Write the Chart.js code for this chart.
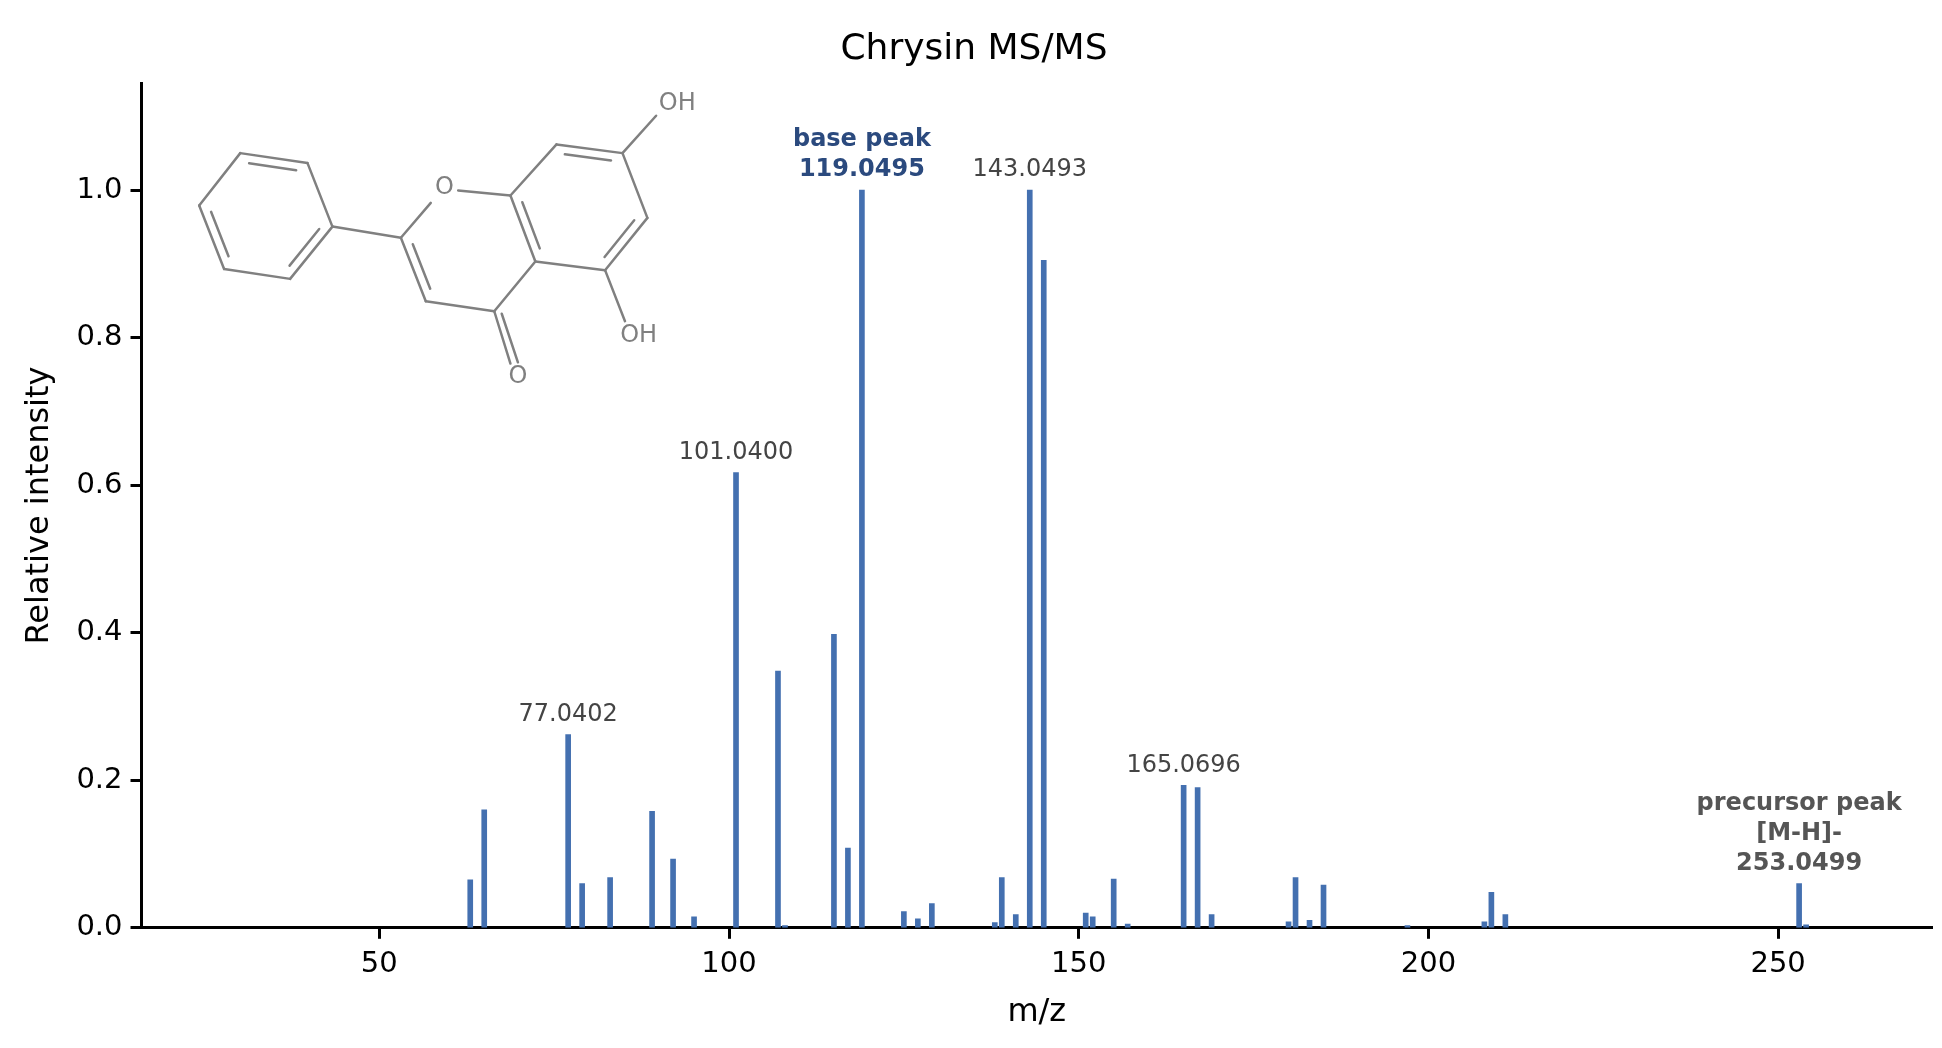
<!DOCTYPE html>
<html><head><meta charset="utf-8">
<script src="https://cdn.jsdelivr.net/npm/chart.js@4/dist/chart.umd.min.js"></script>
<style>html,body{margin:0;padding:0;background:#fff}#wrap{width:1942px;height:1048px}</style>
</head><body><div id="wrap"><canvas id="c"></canvas></div>
<script>
const mzValues = [63,65,77,79,83,89,92,95,101,107,108,115,117,119,125,127,129,138,139,141,143,145,151,152,155,157,165,167,169,180,181,183,185,197,208,209,211,253,254];
const intensities = [0.065,0.16,0.262,0.06,0.068,0.158,0.093,0.015,0.617,0.348,0.003,0.398,0.108,1.0,0.022,0.012,0.033,0.007,0.068,0.018,1.0,0.905,0.02,0.015,0.066,0.005,0.193,0.19,0.018,0.008,0.068,0.01,0.058,0.003,0.008,0.048,0.018,0.06,0.004];
const xTicks = [50,100,150,200,250];
const yTicks = [0,0.2,0.4,0.6,0.8,1.0];
const peakLabels = [
  {mz:77, y:0.262, lines:["77.0402"], bold:false, color:"#444"},
  {mz:101, y:0.617, lines:["101.0400"], bold:false, color:"#444"},
  {mz:119, y:1.0, lines:["base peak","119.0495"], bold:true, color:"#2b4a7e"},
  {mz:143, y:1.0, lines:["143.0493"], bold:false, color:"#444"},
  {mz:165, y:0.193, lines:["165.0696"], bold:false, color:"#444"},
  {mz:253, y:0.06, lines:["precursor peak","[M-H]-","253.0499"], bold:true, color:"#555"}
];
const FONT = "'DejaVu Sans', sans-serif";

const labelPlugin = {
  id:'labels',
  afterDatasetsDraw(chart){
    const {ctx, scales:{x,y}} = chart;
    ctx.save();
    ctx.textAlign='center'; ctx.textBaseline='bottom';
    peakLabels.forEach(l=>{
      ctx.font = (l.bold?'bold ':'') + '24px ' + FONT;
      ctx.fillStyle = l.color;
      const px = x.getPixelForValue(l.mz);
      let py = y.getPixelForValue(l.y) - 8;
      for(let i=l.lines.length-1;i>=0;i--){ ctx.fillText(l.lines[i], px, py); py -= 30; }
    });
    ctx.restore();
  }
};
const molPlugin = {
  id:'mol',
  afterDraw(chart){
    const ctx = chart.ctx, s=1.245;
    const P = a=>[a[0]*s,a[1]*s];
    ctx.save(); ctx.strokeStyle='#808080'; ctx.lineWidth=2.5; ctx.lineCap='round';
    const line=(a,b)=>{a=P(a);b=P(b);ctx.beginPath();ctx.moveTo(a[0],a[1]);ctx.lineTo(b[0],b[1]);ctx.stroke();};
    const inner=(a,b,c)=>{
      const m=[(a[0]+b[0])/2,(a[1]+b[1])/2]; const d=[c[0]-m[0],c[1]-m[1]]; const L=Math.hypot(d[0],d[1]);
      const o=[d[0]/L*7,d[1]/L*7]; const sh=0.15;
      const a2=[a[0]+o[0]+(b[0]-a[0])*sh,a[1]+o[1]+(b[1]-a[1])*sh];
      const b2=[b[0]+o[0]-(b[0]-a[0])*sh,b[1]+o[1]-(b[1]-a[1])*sh];
      line(a2,b2);
    };
    const bz=[[193,123],[247,131],[267,182],[233,224],[180,216],[160,165]];
    const bc=[213,174];
    for(let i=0;i<6;i++) line(bz[i],bz[(i+1)%6]);
    inner(bz[0],bz[1],bc); inner(bz[2],bz[3],bc); inner(bz[4],bz[5],bc);
    const C2=[322,191],C8a=[410,157],C4a=[430,210],C4=[397,250],C3=[342,242];
    const C8=[447,116],C7=[500,123],C6=[520,175],C5=[486,217];
    line(bz[2],C2);
    line(C2,[346,163]); line([368,153],C8a);
    line(C8a,C4a); line(C4a,C4); line(C4,C3); line(C3,C2);
    inner(C3,C2,[376,200]);
    line(C8a,C8); line(C8,C7); line(C7,C6); line(C6,C5); line(C5,C4a);
    const ac=[465,166];
    inner(C8,C7,ac); inner(C6,C5,ac); inner(C8a,C4a,ac);
    line(C7,[527,93]); line(C5,[502,258]);
    line(C4,[410,292]); line([403,252],[416,291]);
    ctx.fillStyle='#808080'; ctx.font='24px '+FONT; ctx.textAlign='center'; ctx.textBaseline='middle';
    let t=P([357,151]); ctx.fillText('O',t[0],t[1]);
    t=P([544,83]); ctx.fillText('OH',t[0],t[1]);
    t=P([513,270]); ctx.fillText('OH',t[0],t[1]);
    t=P([416,303]); ctx.fillText('O',t[0],t[1]);
    ctx.restore();
  }
};

new Chart(document.getElementById('c'),{
  type:'bar',
  data:{datasets:[{data:mzValues.map((m,i)=>({x:m,y:intensities[i]})),backgroundColor:'#4470b0',barThickness:5}]},
  options:{
    responsive:true, maintainAspectRatio:false, animation:false,
    layout:{padding:{left:16,right:10,top:22,bottom:12}},
    plugins:{legend:{display:false},tooltip:{enabled:false},
      title:{display:true,text:'Chrysin MS/MS',font:{size:36,family:FONT,weight:'normal'},color:'#000',padding:{top:6,bottom:12}}},
    scales:{
      x:{type:'linear',min:16,max:272,offset:false,
        grid:{display:true,offset:false,drawOnChartArea:false,drawTicks:true,tickLength:11,tickColor:'#000',tickWidth:3},
        border:{color:'#000',width:3},
        afterBuildTicks:a=>{a.ticks=xTicks.map(v=>({value:v}));},
        ticks:{font:{size:29,family:FONT},color:'#000',padding:8},
        title:{display:true,text:'m/z',font:{size:32,family:FONT},color:'#000',padding:{top:4}}},
      y:{min:0,max:1.145,
        grid:{display:true,drawOnChartArea:false,drawTicks:true,tickLength:11,tickColor:'#000',tickWidth:3},
        border:{color:'#000',width:3},
        afterBuildTicks:a=>{a.ticks=yTicks.map(v=>({value:v}));},
        ticks:{font:{size:29,family:FONT},color:'#000',padding:8,callback:v=>v.toFixed(1)},
        title:{display:true,text:'Relative intensity',font:{size:32,family:FONT},color:'#000',padding:{bottom:10}}}
    }
  },
  plugins:[labelPlugin,molPlugin]
});
</script></body></html>
